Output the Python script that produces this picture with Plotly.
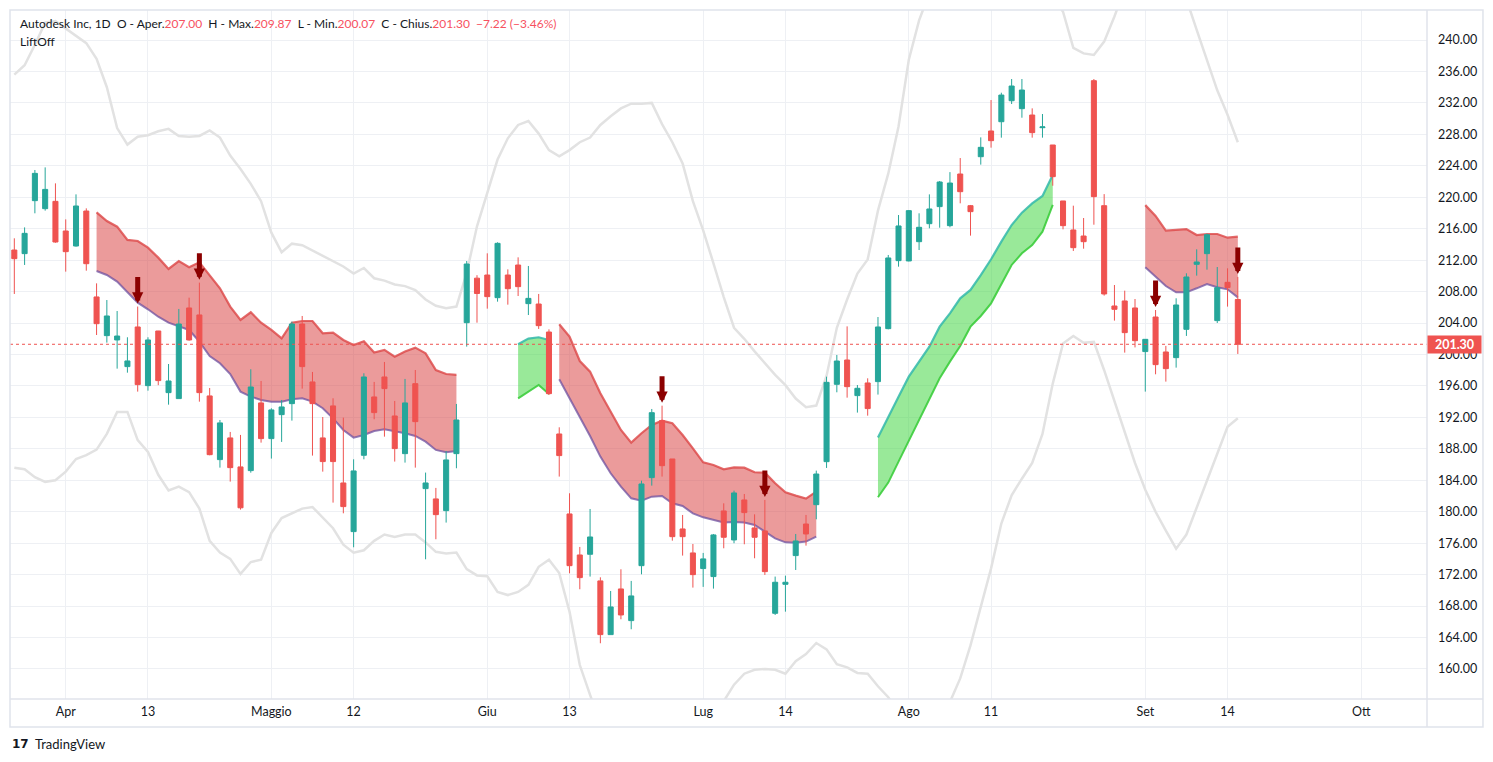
import plotly.graph_objects as go
import pandas as pd

# ---------------- data ----------------
holidays = ["2022-04-15", "2022-05-30", "2022-06-20", "2022-07-04", "2022-09-05"]
session = [d.strftime("%Y-%m-%d") for d in pd.bdate_range("2022-03-25", "2022-10-21")
           if d.strftime("%Y-%m-%d") not in holidays]

opens = [213.29, 212.83, 219.57, 218.55, 219.48, 215.71, 213.80, 218.25, 207.32, 202.40,
         201.85, 198.46, 203.50, 196.04, 202.99, 195.15, 194.39, 205.92, 205.03, 194.73,
         186.63, 189.39, 185.70, 185.23, 193.84, 189.30, 192.35, 193.75, 203.88, 196.51,
         189.39, 193.46, 183.66, 177.47, 187.18, 194.60, 197.14, 192.18, 187.39, 196.29,
         182.94, 181.63, 180.14, 187.39, 204.05, 209.71, 210.11, 207.23, 210.11, 211.38,
         206.47, 206.42, 202.86, 189.89, 179.72, 174.50, 174.59, 171.20, 164.37, 170.18,
         166.15, 173.14, 184.34, 191.59, 186.71, 177.81, 174.76, 172.77, 171.75, 180.10,
         176.41, 181.50, 177.94, 177.56, 167.08, 170.77, 174.42, 178.44, 180.90, 186.37,
         196.21, 199.30, 194.77, 196.38, 196.55, 203.29, 211.94, 211.90, 214.35, 216.64,
         218.81, 216.39, 222.96, 218.93, 225.16, 228.43, 229.61, 232.28, 231.27, 230.46,
         228.85, 226.65, 219.53, 215.84, 215.07, 234.83, 218.93, 206.17, 206.81, 205.92,
         200.37, 204.77, 200.32, 199.60, 203.20, 211.47, 212.83, 204.31, 209.18, 207.00]
highs = [214.78, 216.17, 223.47, 223.80, 221.77, 217.19, 220.37, 218.59, 209.05, 206.93,
         205.53, 202.19, 206.10, 202.19, 203.00, 198.79, 205.79, 207.23, 209.14, 195.74,
         191.67, 190.15, 189.77, 198.12, 196.63, 193.16, 194.22, 204.18, 204.90, 197.78,
         192.05, 194.43, 191.97, 186.67, 197.61, 196.51, 199.05, 194.09, 196.89, 198.03,
         184.98, 183.03, 187.73, 193.71, 211.89, 210.09, 212.87, 214.27, 210.83, 212.36,
         211.26, 207.70, 203.20, 190.74, 182.35, 175.52, 180.35, 171.66, 169.92, 172.68,
         171.20, 183.95, 193.07, 193.49, 186.71, 179.59, 175.90, 174.76, 177.17, 181.07,
         182.68, 182.26, 179.67, 181.50, 171.75, 171.87, 177.17, 179.59, 185.23, 197.18,
         199.94, 203.58, 196.12, 196.97, 204.77, 212.66, 217.74, 218.38, 217.96, 220.37,
         222.07, 223.20, 224.99, 219.02, 227.62, 232.37, 233.30, 235.04, 235.04, 231.31,
         230.59, 226.65, 219.53, 218.93, 217.36, 235.04, 220.40, 208.84, 208.12, 207.06,
         201.93, 205.66, 201.09, 207.15, 210.33, 213.38, 215.37, 211.13, 210.96, 209.87]
lows = [207.70, 211.39, 217.96, 218.30, 214.22, 210.54, 213.72, 210.66, 202.48, 201.51,
        198.20, 197.69, 195.28, 195.40, 196.10, 193.62, 194.39, 201.76, 194.00, 187.18,
        185.61, 183.83, 180.27, 184.97, 188.79, 186.76, 188.88, 191.59, 195.66, 187.14,
        185.10, 181.16, 179.80, 175.48, 186.67, 191.76, 189.55, 186.38, 186.25, 185.61,
        173.95, 176.50, 178.62, 185.53, 201.00, 204.05, 205.83, 206.72, 206.34, 207.44,
        205.02, 203.25, 194.85, 184.47, 172.17, 170.14, 171.75, 163.27, 164.37, 166.32,
        165.05, 172.04, 183.32, 184.47, 176.32, 174.42, 170.35, 170.44, 170.22, 175.35,
        175.99, 175.86, 174.08, 171.96, 166.87, 167.29, 172.59, 175.69, 179.04, 185.57,
        195.19, 194.51, 192.61, 192.22, 194.90, 203.20, 211.17, 211.85, 213.29, 216.05,
        216.13, 216.18, 219.23, 215.12, 224.15, 226.31, 227.58, 231.86, 230.12, 227.58,
        227.58, 221.47, 215.92, 213.17, 213.46, 216.51, 207.49, 204.31, 200.24, 200.90,
        195.28, 197.48, 196.55, 198.33, 202.36, 210.03, 210.79, 204.01, 206.09, 200.07]
closes = [212.19, 215.41, 223.04, 221.00, 214.31, 213.08, 218.89, 211.55, 203.92, 204.90,
          202.35, 199.18, 196.17, 201.85, 196.68, 196.63, 203.88, 201.85, 195.15, 187.26,
          191.30, 185.61, 180.50, 195.87, 189.30, 192.95, 193.33, 203.88, 198.46, 193.75,
          186.38, 186.38, 180.65, 185.19, 197.14, 192.61, 195.66, 188.03, 193.84, 191.46,
          183.66, 179.63, 186.59, 191.67, 211.51, 207.76, 207.36, 214.14, 208.37, 208.63,
          207.14, 203.67, 195.02, 187.14, 173.14, 171.62, 176.79, 164.37, 167.89, 166.87,
          169.29, 183.53, 192.60, 185.86, 176.83, 176.83, 172.00, 174.00, 177.05, 176.75,
          182.39, 179.89, 176.75, 172.38, 171.03, 171.03, 176.28, 177.17, 184.80, 196.46,
          199.17, 195.91, 195.70, 193.12, 203.50, 212.28, 216.35, 218.30, 216.18, 218.51,
          221.94, 221.81, 220.71, 218.17, 226.35, 227.20, 233.00, 234.15, 233.64, 228.22,
          228.95, 222.62, 216.39, 213.59, 214.35, 220.08, 207.70, 205.75, 202.78, 201.76,
          201.93, 198.71, 198.20, 206.30, 209.86, 211.77, 215.24, 208.50, 208.52, 201.30]

# LiftOff bands (None where no band); trend: 'bear' (red) / 'bull' (green)
N = None
band_upper = ([N] * 8 +
              [218.08, 216.98, 216.26, 214.57, 214.44, 213.59, 212.32, 210.88, 211.89, 211.09,
               211.72, 210.11, 208.42, 206.09, 204.39, 205.37, 204.05, 203.12, 202.06, 204.05,
               204.26, 204.26, 202.70, 202.78, 201.85, 201.21, 201.68, 200.24, 200.58, 199.73,
               200.37, 200.87, 200.15, 198.03, 197.52, 197.40] +
              [N] * 5 +
              [201.30, 202.02, 202.19, 201.85] +
              [203.84, 202.27, 199.17, 197.82, 195.06, 192.73, 190.40, 188.79, 189.98, 191.04,
               191.59, 191.25, 189.76, 188.07, 186.29, 185.95, 185.40, 185.65, 185.61, 185.02,
               184.97, 183.62, 182.47, 182.05, 181.67, 182.56] +
              [N] * 5 +
              [189.43, 192.10, 194.64, 197.18, 199.09, 201.00, 203.54, 205.24, 207.15, 208.21,
               210.11, 212.11, 214.35, 216.47, 218.04, 219.23, 220.16, 222.83] +
              [N] * 8 +
              [219.00, 217.62, 215.75, 215.84, 215.96, 215.20, 215.33, 215.33, 214.86, 214.99])
band_lower = ([N] * 8 +
              [210.62, 210.11, 209.27, 208.00, 206.60, 205.75, 204.81, 204.05, 203.54, 203.12,
               201.63, 199.81, 198.88, 197.52, 195.28, 194.64, 194.22, 194.00, 194.00, 194.30,
               194.43, 194.00, 193.16, 191.88, 190.40, 189.43, 189.77, 190.27, 190.49, 190.27,
               189.98, 189.64, 188.92, 187.86, 187.56, 187.73] +
              [N] * 5 +
              [194.43, 195.28, 196.12, 194.98] +
              [196.84, 194.43, 192.09, 189.64, 187.01, 184.89, 183.19, 181.71, 181.41, 181.92,
               182.01, 181.07, 180.73, 179.80, 179.29, 178.96, 178.62, 178.70, 178.62, 178.32,
               177.47, 176.62, 176.11, 176.07, 176.20, 176.84] +
              [N] * 5 +
              [181.84, 183.71, 186.38, 189.05, 191.67, 194.22, 196.97, 199.09, 201.09, 203.54,
               204.90, 206.51, 208.97, 211.39, 212.87, 213.93, 215.62, 219.02] +
              [N] * 8 +
              [211.09, 209.90, 208.71, 207.91, 207.91, 208.42, 208.97, 208.55, 208.29, 207.27])
band_trend = ([N] * 8 + ["bear"] * 36 + [N] * 5 + ["bull"] * 4 + ["bear"] * 26 +
              [N] * 5 + ["bull"] * 18 + [N] * 8 + ["bear"] * 10)

env_upper = [235.6, 236.8, 239.4, 242.2, 242.4, 241.5, 240.6, 239.6, 237.6, 234.0,
             228.8, 226.7, 227.7, 227.9, 228.4, 228.7, 227.8, 227.7, 227.8, 228.5,
             227.6, 225.3, 223.6, 221.7, 219.5, 215.5, 213.0, 214.1, 213.9, 213.2,
             212.5, 211.8, 211.2, 210.3, 211.0, 209.7, 209.4, 208.9, 208.7, 208.2,
             207.0, 206.2, 205.9, 206.1, 210.4, 216.3, 220.5, 224.8, 227.5, 229.2,
             229.7, 228.1, 226.0, 225.2, 226.0, 227.0, 227.6, 229.2, 230.3, 231.3,
             231.9, 231.9, 232.0, 229.3, 227.0, 224.3, 219.5, 215.8, 211.6, 207.3,
             203.4, 202.0, 200.4, 198.9, 197.4, 196.1, 194.4, 193.3, 193.5, 197.3,
             203.4, 207.0, 210.3, 212.1, 218.3, 223.0, 229.0, 237.5, 242.5, 246.0,
             249.0, 252.0, 254.0, 255.5, 256.0, 255.5, 254.5, 253.0, 251.0, 249.0,
             247.0, 245.5, 243.6, 239.0, 238.3, 238.1, 239.8, 243.0, 246.5, 248.5,
             249.5, 249.5, 249.0, 247.5, 245.2, 241.3, 237.5, 233.6, 230.5, 227.0]
env_lower = [185.6, 185.4, 184.4, 183.8, 184.0, 185.1, 186.7, 187.2, 187.9, 189.9,
             192.7, 192.7, 189.1, 187.6, 184.7, 182.7, 183.2, 182.5, 180.4, 176.3,
             174.8, 174.0, 172.1, 173.6, 173.9, 177.3, 179.2, 179.8, 180.4, 180.6,
             179.3, 177.9, 175.8, 174.8, 175.1, 176.3, 177.1, 176.8, 177.1, 177.1,
             176.1, 174.9, 174.7, 174.8, 172.7, 171.9, 171.8, 169.8, 169.4, 169.8,
             170.7, 173.0, 173.9, 172.2, 167.3, 160.5, 156.7, 153.0, 150.0, 147.5,
             145.5, 144.5, 144.5, 145.5, 147.5, 150.0, 152.5, 154.5, 155.5, 155.9,
             158.0, 159.4, 159.9, 160.0, 159.9, 159.4, 161.0, 161.9, 163.3, 162.5,
             160.6, 160.2, 159.5, 159.4, 157.8, 156.4, 154.5, 153.0, 152.0, 151.5,
             152.5, 155.8, 158.8, 163.0, 167.8, 172.8, 178.5, 182.1, 184.2, 186.2,
             189.9, 196.3, 201.4, 202.35, 201.5, 201.6, 198.0, 194.0, 190.1, 186.2,
             182.8, 180.0, 177.6, 175.3, 177.1, 180.5, 183.8, 187.4, 190.8, 191.9]

sell_signal_idx = [12, 18, 63, 73, 111, 119]

tick_dates = ["2022-04-01", "2022-04-13", "2022-05-02", "2022-05-12", "2022-06-01", "2022-06-13",
              "2022-07-01", "2022-07-14", "2022-08-01", "2022-08-11", "2022-09-01", "2022-09-14",
              "2022-10-03"]
tick_text = ["Apr", "13", "Maggio", "12", "Giu", "13", "Lug", "14", "Ago", "11", "Set", "14", "Ott"]
price_ticks = list(range(160, 241, 4))

# ---------------- styling ----------------
UP = "#26a69a"
DOWN = "#ef5350"
TXT = "#131722"
RED_TXT = "#f7525f"
GRID = "#eef0f4"
BORDER = "#e0e3eb"
FONT = "Lato, Roboto, sans-serif"

XR = [-0.42, 137.4]
YR = [156.18, 243.82]

xs = list(range(len(opens)))
tickvals = [session.index(d) for d in tick_dates]

fig = go.Figure()

# envelope lines
for env in (env_upper, env_lower):
    fig.add_trace(go.Scatter(x=xs, y=env, mode="lines",
                             line=dict(color="#e2e2e2", width=2.5),
                             hoverinfo="skip"))

# bands grouped into runs of the same trend
runs = []
start = None
for i, t in enumerate(band_trend + [None]):
    if start is not None and (t != band_trend[start]):
        runs.append((start, i - 1, band_trend[start]))
        start = None
    if start is None and t is not None:
        start = i

for s, e, kind in runs:
    xx = xs[s:e + 1]
    lo = band_lower[s:e + 1]
    hi = band_upper[s:e + 1]
    if kind == "bear":
        lo_col, hi_col, fill = "rgba(110,80,160,0.75)", "rgba(220,70,70,0.8)", "rgba(215,55,55,0.5)"
    else:
        lo_col, hi_col, fill = "rgba(60,205,60,0.9)", "rgba(50,185,170,0.85)", "rgba(70,215,70,0.55)"
    fig.add_trace(go.Scatter(x=xx, y=lo, mode="lines", line=dict(color=lo_col, width=2),
                             hoverinfo="skip"))
    fig.add_trace(go.Scatter(x=xx, y=hi, mode="lines", line=dict(color=hi_col, width=2.2),
                             fill="tonexty", fillcolor=fill, hoverinfo="skip"))

# candles on an overlaying subplot so they sit above the band fills
fig.add_trace(go.Candlestick(
    x=xs, open=opens, high=highs, low=lows, close=closes,
    xaxis="x2", yaxis="y2",
    increasing=dict(line=dict(color=UP, width=1), fillcolor=UP),
    decreasing=dict(line=dict(color=DOWN, width=1), fillcolor=DOWN),
    whiskerwidth=0, hoverinfo="skip"))

# sell arrows
annotations = []
for i in sell_signal_idx:
    annotations.append(dict(x=xs[i], y=highs[i], xref="x", yref="y", text="",
                            showarrow=True, ax=0, ay=-31, arrowhead=2, arrowsize=0.45,
                            arrowwidth=5, arrowcolor="#8b0000", standoff=3))

last_o, last_h, last_l, last_c = opens[-1], highs[-1], lows[-1], closes[-1]
chg = last_c - closes[-2]
pct = chg / closes[-2] * 100

shapes = [
    dict(type="line", xref="paper", yref="y", x0=0, x1=1, y0=last_c, y1=last_c,
         line=dict(color=DOWN, width=1, dash="dot")),
    dict(type="rect", xref="paper", yref="paper", x0=0, x1=1.0395, y0=-0.0406, y1=1.0,
         line=dict(color=BORDER, width=1.5)),
    dict(type="line", xref="paper", yref="paper", x0=1, x1=1, y0=-0.0406, y1=1.0,
         line=dict(color=BORDER, width=1.5)),
    dict(type="line", xref="paper", yref="paper", x0=0, x1=1.0395, y0=0, y1=0,
         line=dict(color=BORDER, width=1.5)),
]

sp = "\u00a0"
def val(v):
    return f"<span style='color:{RED_TXT}'>{v}</span>"

header = (f"Autodesk Inc, 1D{sp}{sp}O - Aper.{val(f'{last_o:.2f}')}{sp}{sp}"
          f"H - Max.{val(f'{last_h:.2f}')}{sp}{sp}L - Min.{val(f'{last_l:.2f}')}{sp}{sp}"
          f"C - Chius.{val(f'{last_c:.2f}')}{sp}{sp}"
          + val(f"\u2212{abs(chg):.2f} (\u2212{abs(pct):.2f}%)"))

annotations += [
    dict(xref="paper", yref="paper", x=0.0057, y=0.9797, xanchor="left", yanchor="middle",
         text=header, showarrow=False, font=dict(family=FONT, size=12, color=TXT)),
    dict(xref="paper", yref="paper", x=0.0057, y=0.955, xanchor="left", yanchor="middle",
         text="LiftOff", showarrow=False, font=dict(family=FONT, size=12, color=TXT)),
    dict(xref="paper", yref="y", x=1.0, y=last_c, xanchor="left", yanchor="middle",
         text=f"<b>{last_c:.2f}</b>", showarrow=False, bgcolor=DOWN, width=51, height=15,
         align="center", borderpad=1, font=dict(family=FONT, size=12.5, color="white")),
    dict(xref="paper", yref="paper", x=0.0, y=-0.0653, xanchor="left", yanchor="middle",
         text="<b>17</b>", showarrow=False,
         font=dict(family="DejaVu Sans", size=12, color=TXT)),
    dict(xref="paper", yref="paper", x=0.016, y=-0.0653, xanchor="left", yanchor="middle",
         text="TradingView", showarrow=False, font=dict(family=FONT, size=13, color=TXT)),
]

# page body has an 8px default margin: size/margins compensate for it
fig.update_layout(
    width=1477, height=746,
    margin=dict(l=2, r=58, t=2, b=55, autoexpand=False),
    paper_bgcolor="white", plot_bgcolor="white",
    showlegend=False, hovermode=False,
    shapes=shapes, annotations=annotations,
    font=dict(family=FONT, size=12, color=TXT),
    xaxis=dict(range=XR, tickmode="array", tickvals=tickvals, ticktext=tick_text,
               showgrid=True, gridcolor=GRID, gridwidth=1, zeroline=False, showline=False,
               ticks="", ticklabelstandoff=3, tickfont=dict(family=FONT, size=12.5, color=TXT),
               rangeslider=dict(visible=False), fixedrange=True),
    yaxis=dict(side="right", range=YR, tickmode="array", tickvals=price_ticks,
               ticktext=[f"{v:.2f}" for v in price_ticks], showgrid=True, gridcolor=GRID,
               gridwidth=1, zeroline=False, showline=False, ticks="",
               ticklabelstandoff=10, tickfont=dict(family=FONT, size=12.5, color=TXT),
               fixedrange=True),
    xaxis2=dict(overlaying="x", range=XR, visible=False, showgrid=False, zeroline=False,
                rangeslider=dict(visible=False), fixedrange=True),
    yaxis2=dict(overlaying="y", range=YR, visible=False, showgrid=False, zeroline=False,
                fixedrange=True),
)

fig.write_html("out.html")
